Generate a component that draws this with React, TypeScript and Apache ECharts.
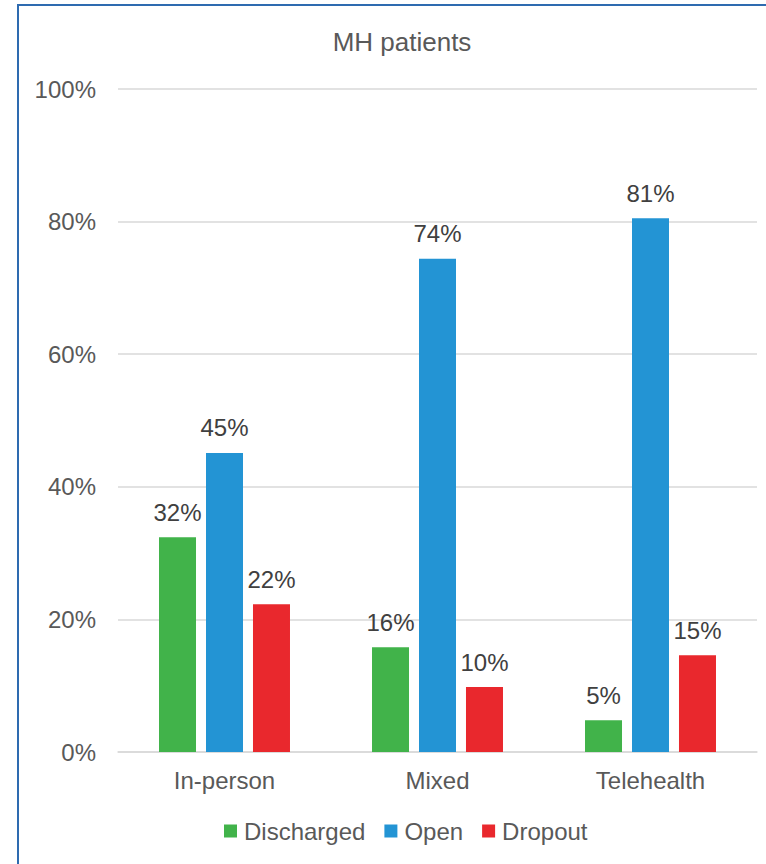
import React, { useEffect, useRef } from "react";
import * as echarts from "echarts";

const categories = ["In-person", "Mixed", "Telehealth"];
const discharged = [32.4, 15.8, 4.8];
const open = [45.1, 74.4, 80.5];
const dropout = [22.3, 9.8, 14.6];
const yTicks = [0, 20, 40, 60, 80, 100];

const FONT = "Liberation Sans, Arial, sans-serif";
const TXT = "#595959";

export default function App() {
  const ref = useRef<HTMLDivElement>(null);
  useEffect(() => {
    const chart = echarts.init(ref.current!, null, { renderer: "svg" });
    const label = {
      show: true,
      position: "top" as const,
      distance: 13,
      fontSize: 24,
      fontFamily: FONT,
      color: "#404040",
      formatter: (p: any) => Math.round(p.value) + "%",
    };
    chart.setOption({
      animation: false,
      backgroundColor: "#ffffff",
      textStyle: { fontFamily: FONT },
      title: {
        text: "MH patients",
        left: 397,
        top: 24,
        textAlign: "center",
        textStyle: { fontSize: 26, fontWeight: "normal", color: TXT, fontFamily: FONT },
      },
      graphic: [
        {
          type: "rect",
          shape: { x: 18, y: 5, width: 820, height: 900 },
          style: { fill: "none", stroke: "#2e6bb0", lineWidth: 2 },
          silent: true,
        },
      ],
      legend: {
        data: ["Discharged", "Open", "Dropout"],
        left: 219,
        top: 814,
        itemWidth: 13,
        itemHeight: 13,
        itemGap: 19,
        icon: "rect",
        textStyle: { fontSize: 24, color: TXT, fontFamily: FONT, padding: [0, 0, 0, 2] },
      },
      grid: { left: 118, right: 9, top: 89, bottom: 112, containLabel: false },
      xAxis: {
        type: "category",
        data: categories,
        axisLine: { lineStyle: { color: "#d9d9d9", width: 1.5 } },
        axisTick: { show: false },
        axisLabel: { fontSize: 24, color: TXT, fontFamily: FONT, margin: 16 },
      },
      yAxis: {
        type: "value",
        min: yTicks[0],
        max: yTicks[yTicks.length - 1],
        interval: 20,
        axisLine: { show: false },
        axisTick: { show: false },
        axisLabel: { fontSize: 24, color: TXT, fontFamily: FONT, margin: 22, formatter: "{value}%" },
        splitLine: { lineStyle: { color: "#d9d9d9", width: 1.5 } },
      },
      series: [
        { name: "Discharged", type: "bar", data: discharged, barWidth: 37, barGap: "27%", itemStyle: { color: "#41b34a" }, label },
        { name: "Open", type: "bar", data: open, barWidth: 37, barGap: "27%", itemStyle: { color: "#2394d4" }, label },
        { name: "Dropout", type: "bar", data: dropout, barWidth: 37, barGap: "27%", itemStyle: { color: "#e9282d" }, label },
      ],
    });
    return () => chart.dispose();
  }, []);
  return (
    <div
      ref={ref}
      style={{ position: "fixed", left: 0, top: 0, width: 766, height: 864, background: "#fff" }}
    />
  );
}
